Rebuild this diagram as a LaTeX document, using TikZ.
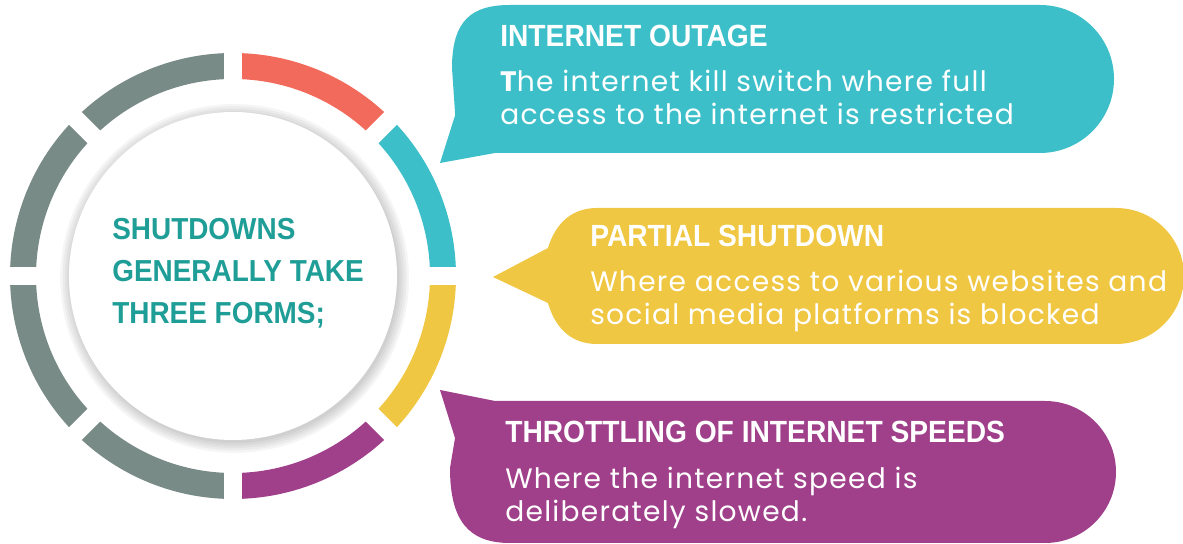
\documentclass[tikz,border=0pt]{standalone}
\usepackage{fontspec}
\setmainfont[LetterSpace=4.5]{Poppins}
\newfontfamily\headfont[FakeStretch=0.92]{Liberation Sans}
\definecolor{outagecol}{HTML}{3DBFC9}
\definecolor{partialcol}{HTML}{F0C742}
\definecolor{throttlecol}{HTML}{A0408B}
\definecolor{redcol}{HTML}{F26A5B}
\definecolor{greycol}{HTML}{798B87}
\definecolor{hubtext}{HTML}{1F9E97}
\begin{document}
\begin{tikzpicture}[
    seg/.style={line width=0.65cm},
    hubtxt/.style={anchor=north west,inner sep=0pt,text=hubtext,align=left,
      font=\headfont\bfseries\fontsize{21.6}{29.9}\selectfont},
    head/.style={anchor=north west,inner sep=0pt,text=white,
      font=\headfont\bfseries\fontsize{21.8}{26}\selectfont},
    body/.style={anchor=north west,inner sep=0pt,text=white,align=left,
      font=\fontsize{20}{23.5}\selectfont}]
    \useasboundingbox (0,0) rectangle (29.575,13.6);
    \coordinate (hub) at (5.825,6.7);
    \foreach \a/\c in {45/redcol,0/outagecol,-45/partialcol,-90/throttlecol,-135/greycol,180/greycol,135/greycol,90/greycol}
    \draw[seg,\c] ([shift={(\a:5.25)}]hub) arc[start angle=\a,end angle=\a+45,radius=5.25];
    \foreach \a in {0,45,...,315}
    \draw[white,line width=0.45cm] ([shift={(\a:4.7)}]hub) -- ([shift={(\a:5.8)}]hub);
    \foreach \r in {4.36,4.3,4.24,4.18,4.12}
    \fill[black,opacity=0.04] ([shift={(0.04,-0.06)}]hub) circle (\r);
    \fill[white] (hub) circle (4.1);
    \node[hubtxt] (forms) at (2.8,8.15) {SHUTDOWNS\\GENERALLY TAKE\\THREE FORMS;};
    \fill[outagecol] (12.75,13.475) -- (26,13.475) arc[start angle=90,end angle=-90,radius=1.85]
      -- (12.375,9.775) -- (11,9.525) -- (11.38,10.725) -- (11.3,11.9)
      .. controls (11.3,13.1) and (11.8,13.475) .. (12.75,13.475) -- cycle;
    \fill[partialcol] (14.925,8.4) -- (27.9,8.4) arc[start angle=90,end angle=-90,radius=1.7]
      -- (14.925,5) .. controls (14.2,5) and (13.85,5.5) .. (13.7,6.025) -- (12.325,6.675)
      -- (13.7,7.4) .. controls (13.85,7.9) and (14.2,8.4) .. (14.925,8.4) -- cycle;
    \fill[throttlecol] (12.375,3.575) -- (26.125,3.575) arc[start angle=90,end angle=-90,radius=1.775]
      -- (12.75,0.025) .. controls (11.7,0.025) and (11.25,0.6) .. (11.25,1.9)
      -- (11.375,2.65) -- (11,3.85) -- cycle;
    \node[head] (outage) at (12.5,12.975) {INTERNET OUTAGE};
    \node[body] (outagetxt) at (12.5,11.85) {{\bfseries T}he internet kill switch where full\\access to the internet is restricted};
    \node[head] (partial) at (14.75,7.975) {PARTIAL SHUTDOWN};
    \node[body] (partialtxt) at (14.75,6.85) {Where access to various websites and\\social media platforms is blocked};
    \node[head] (throttle) at (12.625,3.075) {THROTTLING OF INTERNET SPEEDS};
    \node[body] (throttletxt) at (12.625,1.925) {Where the internet speed is\\deliberately slowed.};
  \end{tikzpicture}
\end{document}
